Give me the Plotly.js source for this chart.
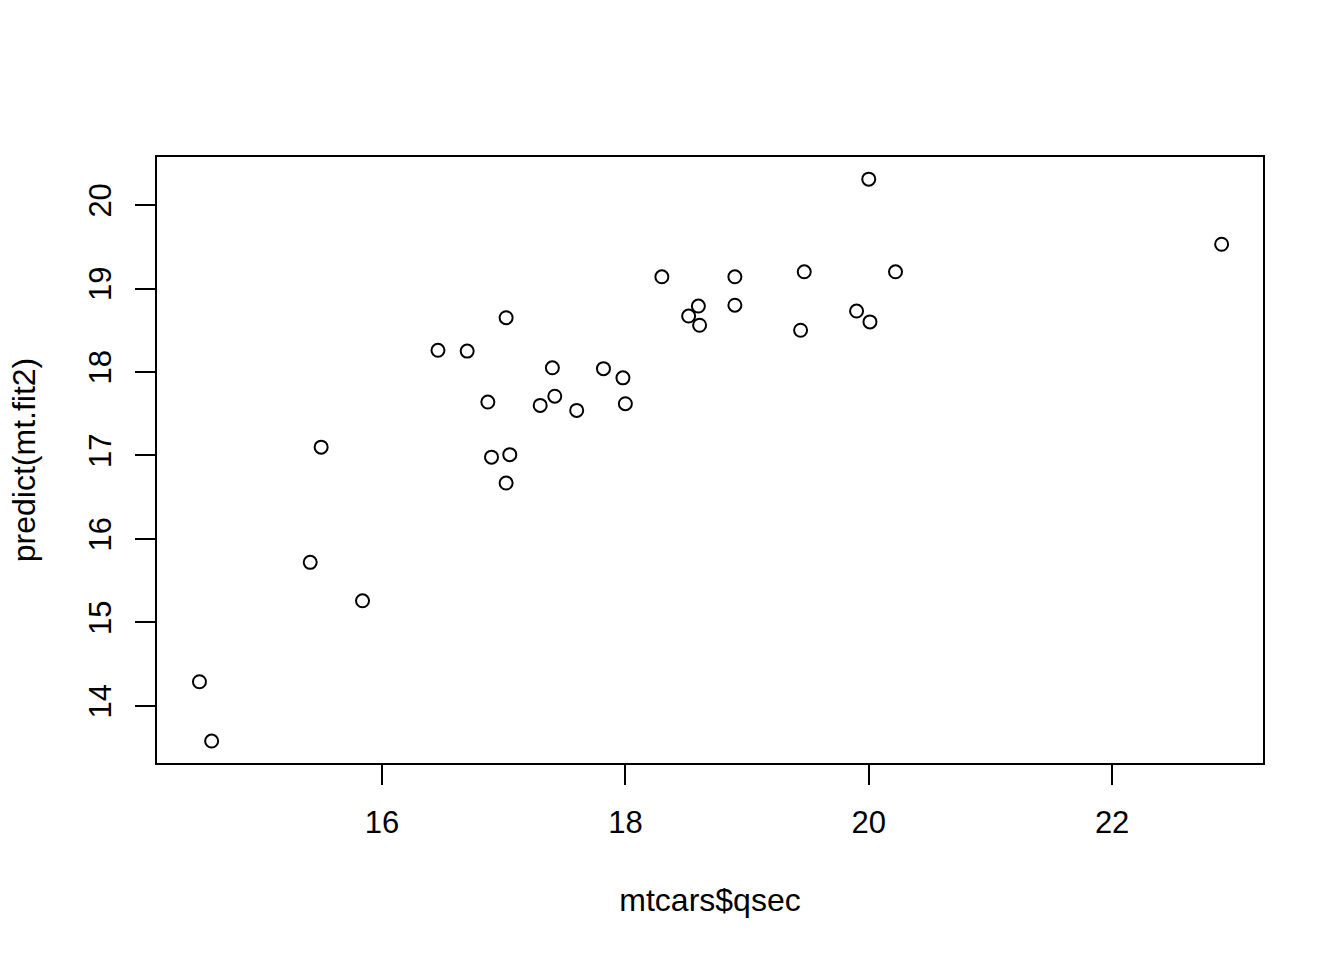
<!DOCTYPE html>
<html>
<head>
<meta charset="utf-8">
<script src="https://cdn.plot.ly/plotly-3.0.1.min.js"></script>
<style>html,body{margin:0;padding:0;background:#fff;}#chart{width:1344px;height:960px;}</style>
</head>
<body>
<div id="chart"></div>
<script>
// mtcars$qsec
const qsec = [16.46, 17.02, 18.61, 19.44, 17.02, 20.22, 15.84, 20.00, 22.90, 18.30, 18.90, 17.40, 17.60, 18.00, 17.98, 17.82, 17.42, 19.47, 18.52, 19.90, 20.01, 16.87, 17.30, 15.41, 17.05, 18.90, 16.70, 16.90, 14.50, 15.50, 14.60, 18.60];
// predict(mt.fit2)
const predicted = [18.26, 18.65, 18.56, 18.50, 16.67, 19.20, 15.26, 20.31, 19.53, 19.14, 19.14, 18.05, 17.54, 17.62, 17.93, 18.04, 17.71, 19.20, 18.67, 18.73, 18.60, 17.64, 17.60, 15.72, 17.01, 18.80, 18.25, 16.98, 14.29, 17.10, 13.58, 18.79];
const xTicks = [16, 18, 20, 22];
const yTicks = [14, 15, 16, 17, 18, 19, 20];
const xLabel = "mtcars$qsec";
const yLabel = "predict(mt.fit2)";

const font = {family: "Liberation Sans, Arial, sans-serif", size: 32, color: "#000"};
const tickFont = {family: "Liberation Sans, Arial, sans-serif", size: 31, color: "#000"};
const trace = {
  x: qsec, y: predicted, type: "scatter", mode: "markers",
  marker: {symbol: "circle-open", size: 13, color: "#000", line: {width: 2, color: "#000"}},
  hoverinfo: "none"
};
const layout = {
  width: 1344, height: 960,
  paper_bgcolor: "#fff", plot_bgcolor: "#fff",
  margin: {l: 157, r: 81, t: 157, b: 197, pad: 0},
  showlegend: false,
  font: font,
  xaxis: {
    range: [14.151, 23.24], tickvals: xTicks, ticktext: xTicks.map(String),
    ticks: "outside", ticklen: 20, tickwidth: 2, tickcolor: "#000",
    showline: true, mirror: true, linecolor: "#000", linewidth: 2,
    showgrid: false, zeroline: false, tickfont: tickFont, ticklabelstandoff: 11,
    title: {text: xLabel, font: font, standoff: 49}, automargin: false
  },
  yaxis: {
    range: [13.317, 20.575], tickvals: yTicks, ticktext: yTicks.map(String),
    ticks: "outside", ticklen: 20, tickwidth: 2, tickcolor: "#000",
    showline: true, mirror: true, linecolor: "#000", linewidth: 2,
    showgrid: false, zeroline: false, tickfont: tickFont, tickangle: -90, ticklabelstandoff: 12,
    title: {text: yLabel, font: font, standoff: 37}, automargin: false
  }
};
Plotly.newPlot("chart", [trace], layout, {staticPlot: true, displayModeBar: false});
</script>
</body>
</html>
